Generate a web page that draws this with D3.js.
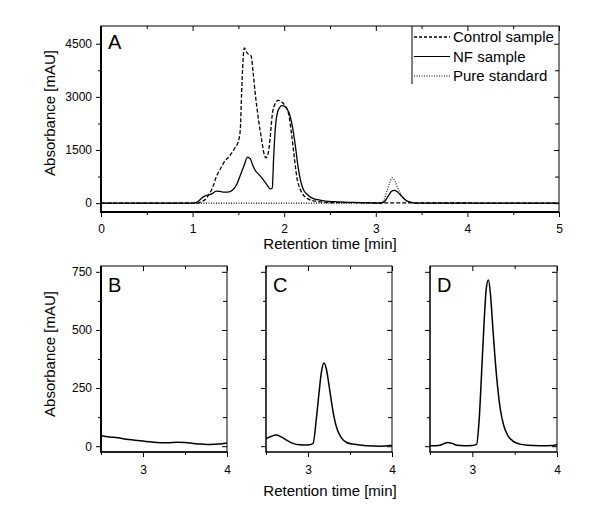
<!DOCTYPE html>
<html>
<head>
<meta charset="utf-8">
<script src="https://cdn.jsdelivr.net/npm/d3@7"></script>
<style>
  html, body { margin: 0; padding: 0; background: #fff; }
  svg { display: block; }
  text { font-family: "Liberation Sans", Arial, sans-serif; fill: #000; }
</style>
</head>
<body>
<svg id="chart" width="600" height="526"></svg>
<script>
// ---------------- DATA ----------------
// Panel A: retention time (min) and absorbance (mAU)
const controlTime  = [0, 1.05, 1.1, 1.14, 1.18, 1.22, 1.26, 1.3, 1.35, 1.4, 1.46, 1.5, 1.52, 1.535, 1.55, 1.565, 1.585, 1.61, 1.64, 1.66, 1.69, 1.72, 1.75, 1.78, 1.8, 1.82, 1.845, 1.87, 1.9, 1.935, 1.97, 2.01, 2.05, 2.08, 2.11, 2.14, 2.17, 2.2, 2.26, 2.35, 2.5, 5.0];
const controlValue = [0, 0, 40, 110, 250, 450, 750, 950, 1180, 1320, 1550, 1750, 2050, 3100, 4000, 4380, 4280, 4200, 4150, 3700, 2950, 2350, 1850, 1400, 1280, 1350, 1800, 2500, 2800, 2900, 2860, 2750, 2500, 1950, 1300, 700, 420, 260, 120, 50, 15, 0];

const nfTime  = [0, 1.0, 1.05, 1.09, 1.13, 1.17, 1.21, 1.26, 1.3, 1.35, 1.4, 1.44, 1.48, 1.52, 1.56, 1.6, 1.63, 1.66, 1.69, 1.72, 1.76, 1.8, 1.85, 1.87, 1.885, 1.9, 1.92, 1.95, 1.975, 2.0, 2.03, 2.06, 2.09, 2.12, 2.15, 2.18, 2.21, 2.25, 2.3, 2.4, 2.55, 2.75, 2.95, 3.06, 3.1, 3.14, 3.17, 3.2, 3.23, 3.27, 3.31, 3.35, 3.4, 3.45, 5.0];
const nfValue = [0, 0, 30, 120, 200, 230, 260, 340, 330, 310, 320, 380, 520, 780, 1050, 1300, 1250, 1050, 900, 820, 700, 560, 400, 430, 1300, 2000, 2480, 2700, 2750, 2740, 2660, 2500, 2150, 1650, 1050, 620, 380, 250, 150, 80, 40, 20, 8, 0, 60, 220, 330, 360, 330, 230, 120, 50, 15, 0, 0];

const stdTime  = [0, 3.05, 3.09, 3.12, 3.15, 3.18, 3.21, 3.24, 3.27, 3.3, 3.34, 3.38, 3.45, 5.0];
const stdValue = [0, 0, 110, 330, 570, 715, 620, 420, 260, 140, 60, 20, 0, 0];

// Panel B (control), C (NF sample), D (pure standard)
const bTime  = [2.5, 2.6, 2.7, 2.8, 2.9, 3.0, 3.1, 3.2, 3.3, 3.4, 3.5, 3.6, 3.7, 3.8, 3.9, 4.0];
const bValue = [45, 40, 36, 30, 26, 22, 18, 15, 15, 17, 16, 12, 9, 7, 9, 14];

const cTime  = [2.5, 2.56, 2.62, 2.68, 2.75, 2.82, 2.9, 3.0, 3.06, 3.1, 3.13, 3.16, 3.19, 3.22, 3.25, 3.28, 3.31, 3.35, 3.4, 3.46, 3.55, 3.7, 3.85, 4.0];
const cValue = [32, 42, 48, 40, 25, 12, 6, 5, 12, 120, 225, 320, 358, 330, 262, 190, 125, 70, 35, 16, 8, 2, 0, 4];

const dTime  = [2.5, 2.6, 2.66, 2.71, 2.76, 2.82, 2.9, 3.0, 3.05, 3.08, 3.11, 3.14, 3.165, 3.19, 3.215, 3.24, 3.27, 3.3, 3.33, 3.37, 3.42, 3.48, 3.55, 3.65, 3.8, 3.95, 4.0];
const dValue = [2, 3, 10, 16, 12, 4, 2, 3, 8, 110, 320, 540, 680, 715, 650, 520, 370, 250, 160, 90, 45, 22, 10, 4, 2, 3, 7];

// Ticks
const aXMajor = [0, 1, 2, 3, 4, 5];
const aXMinor = [0.5, 1.5, 2.5, 3.5, 4.5];
const aYMajor = [0, 1500, 3000, 4500];
const aYMinor = [750, 2250, 3750];
const sXMajor = [3, 4];
const sXMinor = [2.5, 3.5];
const sYMajor = [0, 250, 500, 750];
const sYMinor = [125, 375, 625];

const legendLabels = ["Control sample", "NF sample", "Pure standard"];
const panelLabels = ["A", "B", "C", "D"];
const xTitle = "Retention time [min]";
const yTitle = "Absorbance [mAU]";

// ---------------- DRAW ----------------
const svg = d3.select("#chart");
const FONT_TICK = 12;

const styles = {
  control: { dash: "4,2", width: 1.3 },
  nf: { dash: null, width: 1.3 },
  std: { dash: "1,1.5", width: 1.1 }
};

function zip(t, v) { return t.map((x, i) => [x, v[i]]); }

function drawPanel(cfg) {
  const { left, right, top, bottom, xDomain, yDomain, xMajor, xMinor, yMajor, yMinor, showYLabels, leftW, bottomW } = cfg;
  const x = d3.scaleLinear().domain(xDomain).range([left, right]);
  const y = d3.scaleLinear().domain(yDomain).range([bottom, top]);
  const g = svg.append("g");

  const clipId = "clip" + Math.random().toString(36).slice(2);
  svg.append("clipPath").attr("id", clipId)
    .append("rect").attr("x", left).attr("y", top).attr("width", right - left).attr("height", bottom - top);

  const line = d3.line().x(d => x(d[0])).y(d => y(d[1])).curve(d3.curveMonotoneX);
  const plot = g.append("g").attr("clip-path", `url(#${clipId})`);
  cfg.series.forEach(s => {
    plot.append("path").datum(zip(s.t, s.v))
      .attr("d", line)
      .attr("fill", "none")
      .attr("stroke", "#000")
      .attr("stroke-width", s.style.width)
      .attr("stroke-dasharray", s.style.dash)
      .attr("stroke-linejoin", "round");
  });

  function styleAxis(sel) {
    sel.select(".domain").remove();
    sel.selectAll("line").attr("stroke", "#000").attr("stroke-width", 1);
    sel.selectAll("text").attr("font-size", FONT_TICK).attr("font-family", '"Liberation Sans", Arial, sans-serif').attr("fill", "#000");
  }

  // bottom
  g.append("g").attr("transform", `translate(0,${bottom})`)
    .call(d3.axisBottom(x).tickValues(xMajor).tickSize(5).tickPadding(cfg.xPad).tickFormat(d3.format("d")))
    .call(styleAxis);
  g.append("g").attr("transform", `translate(0,${bottom})`)
    .call(d3.axisBottom(x).tickValues(xMinor).tickSize(3).tickFormat(""))
    .call(styleAxis);
  // top
  g.append("g").attr("transform", `translate(0,${top})`)
    .call(d3.axisTop(x).tickValues(xMajor).tickSize(-5).tickFormat(""))
    .call(styleAxis);
  g.append("g").attr("transform", `translate(0,${top})`)
    .call(d3.axisTop(x).tickValues(xMinor).tickSize(-3).tickFormat(""))
    .call(styleAxis);
  // left
  g.append("g").attr("transform", `translate(${left},0)`)
    .call(d3.axisLeft(y).tickValues(yMajor).tickSize(5).tickPadding(4).tickFormat(showYLabels ? d3.format("d") : ""))
    .call(styleAxis);
  g.append("g").attr("transform", `translate(${left},0)`)
    .call(d3.axisLeft(y).tickValues(yMinor).tickSize(3).tickFormat(""))
    .call(styleAxis);
  // right
  g.append("g").attr("transform", `translate(${right},0)`)
    .call(d3.axisRight(y).tickValues(yMajor).tickSize(-5).tickFormat(""))
    .call(styleAxis);
  g.append("g").attr("transform", `translate(${right},0)`)
    .call(d3.axisRight(y).tickValues(yMinor).tickSize(-4).tickFormat(""))
    .call(styleAxis);

  // frame
  g.append("rect").attr("x", left).attr("y", top).attr("width", right - left).attr("height", bottom - top)
    .attr("fill", "none").attr("stroke", "#000").attr("stroke-width", 1);
  g.append("line").attr("x1", left).attr("x2", left).attr("y1", top).attr("y2", bottom + (bottomW / 2))
    .attr("stroke", "#000").attr("stroke-width", leftW);
  g.append("line").attr("x1", left - leftW / 2).attr("x2", right).attr("y1", bottom).attr("y2", bottom)
    .attr("stroke", "#000").attr("stroke-width", bottomW);

  // panel letter
  g.append("text").attr("x", left + 7).attr("y", cfg.labelY)
    .attr("font-size", 20).text(cfg.label);

  return { x, y, g };
}

// Panel A
const A = drawPanel({
  left: 101, right: 559, top: 26, bottom: 212,
  xDomain: [0, 5], yDomain: [-250, 5000],
  xMajor: aXMajor, xMinor: aXMinor, yMajor: aYMajor, yMinor: aYMinor,
  showYLabels: true, leftW: 2, bottomW: 2.2, xPad: 7,
  label: panelLabels[0], labelY: 49,
  series: [
    { t: stdTime, v: stdValue, style: styles.std },
    { t: controlTime, v: controlValue, style: styles.control },
    { t: nfTime, v: nfValue, style: styles.nf }
  ]
});

// Legend A
const legY = [37, 56.5, 76];
const legStyles = [styles.control, styles.nf, styles.std];
A.g.append("line").attr("x1", 412).attr("x2", 412).attr("y1", 26).attr("y2", 84)
  .attr("stroke", "#000").attr("stroke-width", 1);
legendLabels.forEach((lab, i) => {
  A.g.append("line").attr("x1", 414).attr("x2", 450).attr("y1", legY[i]).attr("y2", legY[i])
    .attr("stroke", "#000").attr("stroke-width", i === 0 ? 1.5 : 1.1)
    .attr("stroke-dasharray", i === 0 ? "3,2" : legStyles[i].dash);
  A.g.append("text").attr("x", 453).attr("y", legY[i] + 5.3).attr("font-size", 15).text(lab);
});

// Small panels
const small = [
  { left: 101, right: 227, label: panelLabels[1], t: bTime, v: bValue, showYLabels: true, leftW: 2, bottomW: 1.5 },
  { left: 266, right: 392, label: panelLabels[2], t: cTime, v: cValue, showYLabels: false, leftW: 1, bottomW: 1.2 },
  { left: 430, right: 557, label: panelLabels[3], t: dTime, v: dValue, showYLabels: false, leftW: 1, bottomW: 1.2 }
];
small.forEach(p => {
  drawPanel({
    left: p.left, right: p.right, top: 266, bottom: 452,
    xDomain: [2.5, 4], yDomain: [-25, 775],
    xMajor: sXMajor, xMinor: sXMinor, yMajor: sYMajor, yMinor: sYMinor,
    showYLabels: p.showYLabels, leftW: p.leftW, bottomW: p.bottomW, xPad: 8,
    label: p.label, labelY: 292,
    series: [{ t: p.t, v: p.v, style: { dash: null, width: 1.5 } }]
  });
});

// Axis titles
svg.append("text").attr("x", 330).attr("y", 249).attr("text-anchor", "middle").attr("font-size", 15).text(xTitle);
svg.append("text").attr("x", 330).attr("y", 496).attr("text-anchor", "middle").attr("font-size", 15).text(xTitle);
svg.append("text").attr("transform", "translate(55,113) rotate(-90)").attr("text-anchor", "middle").attr("font-size", 15).text(yTitle);
svg.append("text").attr("transform", "translate(55,354) rotate(-90)").attr("text-anchor", "middle").attr("font-size", 15).text(yTitle);
</script>
</body>
</html>
